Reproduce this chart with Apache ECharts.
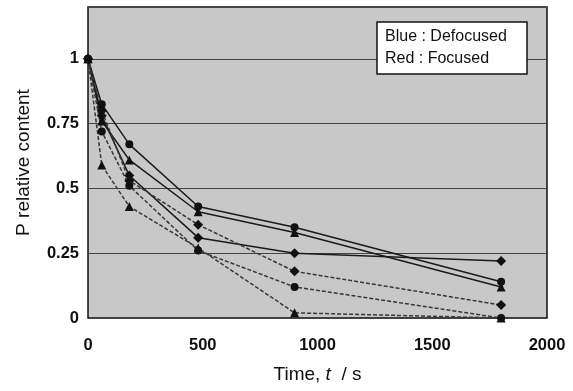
<!DOCTYPE html>
<html>
<head>
<meta charset="utf-8">
<script src="https://cdn.jsdelivr.net/npm/echarts@6/dist/echarts.min.js"></script>
<style>
  html, body { margin: 0; padding: 0; background: #fff; }
  #chart { width: 573px; height: 391px; }
</style>
</head>
<body>
<div id="chart"></div>
<script>
// sampling times (s)
const times = [0, 60, 180, 480, 900, 1800];

// P relative content
const solidCircle   = [1, 0.825, 0.67, 0.43, 0.35, 0.14];
const solidTriangle = [1, 0.76, 0.61, 0.41, 0.33, 0.12];
const solidDiamond  = [1, 0.78, 0.55, 0.31, 0.25, 0.22];
const dashDiamond   = [1, 0.80, 0.53, 0.36, 0.18, 0.05];
const dashCircle    = [1, 0.72, 0.51, 0.26, 0.12, 0.0];
const dashTriangle  = [1, 0.59, 0.43, 0.27, 0.02, 0.0];

const xTicks = [0, 500, 1000, 1500, 2000];
const yTicks = [0, 0.25, 0.5, 0.75, 1];

const FONT = "Liberation Sans, Arial, sans-serif";

function pairs(vals) {
  return times.map((t, i) => [t, vals[i]]);
}

function makeSeries(name, vals, symbol, size, dashed) {
  return {
    name: name,
    type: "line",
    data: pairs(vals),
    symbol: symbol,
    symbolSize: size,
    itemStyle: { color: "#111" },
    lineStyle: {
      color: dashed ? "#383838" : "#1a1a1a",
      width: 1.5,
      type: dashed ? [4, 2] : "solid"
    },
    animation: false
  };
}

const chart = echarts.init(document.getElementById("chart"));
chart.setOption({
  backgroundColor: "#fff",
  animation: false,
  title: {
    left: 377,
    top: 22,
    text: "Blue : Defocused\nRed : Focused",
    backgroundColor: "#fff",
    borderColor: "#111",
    borderWidth: 1.5,
    padding: [4, 20, 4, 8],
    textStyle: {
      fontFamily: FONT,
      fontSize: 16,
      fontWeight: "normal",
      color: "#111",
      lineHeight: 22
    }
  },
  grid: {
    left: 88,
    right: 26,
    top: 7,
    bottom: 73,
    show: true,
    backgroundColor: "#c8c8c8",
    borderColor: "#111",
    borderWidth: 1.5
  },
  xAxis: {
    type: "value",
    min: 0,
    max: 2000,
    interval: 500,
    name: "{a|Time, }{i|t}{a|  / s}",
    nameLocation: "middle",
    nameGap: 47,
    nameTextStyle: {
      rich: {
        a: { fontFamily: FONT, fontSize: 19, color: "#111" },
        i: { fontFamily: FONT, fontSize: 19, color: "#111", fontStyle: "italic" }
      }
    },
    axisLine: { show: false },
    axisTick: { show: false },
    splitLine: { show: false },
    axisLabel: {
      margin: 19,
      fontFamily: FONT,
      fontSize: 16.5,
      fontWeight: "bold",
      color: "#111",
      formatter: v => (xTicks.includes(v) ? String(v) : "")
    }
  },
  yAxis: {
    type: "value",
    min: 0,
    max: 1.2,
    interval: 0.25,
    name: "P relative content",
    nameLocation: "middle",
    nameGap: 55,
    nameTextStyle: { fontFamily: FONT, fontSize: 19, color: "#111" },
    axisLine: { show: false },
    axisTick: { show: false },
    splitLine: { show: true, lineStyle: { color: "#444", width: 1 } },
    axisLabel: {
      margin: 9,
      fontFamily: FONT,
      fontSize: 16.5,
      fontWeight: "bold",
      color: "#111",
      formatter: v => (yTicks.includes(v) ? String(v) : "")
    }
  },
  series: [
    makeSeries("solidCircle", solidCircle, "circle", 8, false),
    makeSeries("solidTriangle", solidTriangle, "triangle", 9, false),
    makeSeries("solidDiamond", solidDiamond, "diamond", 10, false),
    makeSeries("dashDiamond", dashDiamond, "diamond", 10, true),
    makeSeries("dashCircle", dashCircle, "circle", 8, true),
    makeSeries("dashTriangle", dashTriangle, "triangle", 9, true)
  ]
});
</script>
</body>
</html>
